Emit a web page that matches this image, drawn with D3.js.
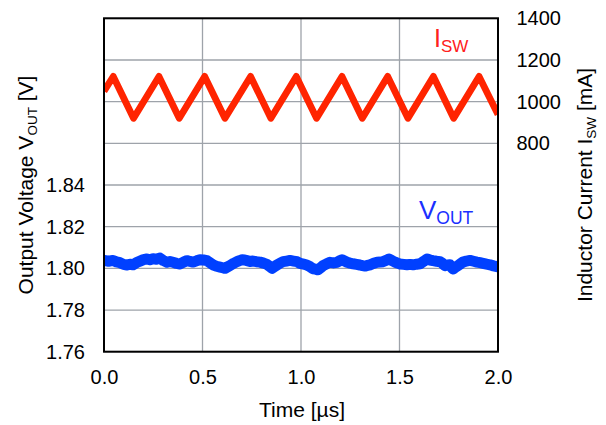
<!DOCTYPE html>
<html><head><meta charset="utf-8">
<script src="https://cdn.jsdelivr.net/npm/d3@7"></script>
<style>body{margin:0;background:#fff}svg{display:block}text{font-family:"Liberation Sans",Arial,sans-serif;fill:#000}</style>
</head><body>
<svg id="c" width="606" height="425"></svg>
<script>
// ---- data ----
const xTicks = [0, 0.5, 1.0, 1.5, 2.0];
const leftGrid = [1.76, 1.78, 1.80, 1.82, 1.84, 1.86, 1.88, 1.90, 1.92];
const leftTickLabels = [1.76, 1.78, 1.80, 1.82, 1.84];
const rightTickLabels = [800, 1000, 1200, 1400];

// Inductor current (mA) triangle wave vertices
const iswTime = [0, 0.047, 0.150, 0.279, 0.382, 0.511, 0.614, 0.744, 0.847, 0.976, 1.079, 1.208, 1.311, 1.440, 1.543, 1.672, 1.775, 1.904, 2.0];
const iswVal  = [1050, 1121, 920, 1121, 920, 1121, 920, 1121, 920, 1121, 920, 1121, 920, 1121, 920, 1121, 920, 1121, 938];

// Output voltage (V)
const voutTime = [0, 0.023, 0.046, 0.063, 0.081, 0.099, 0.117, 0.132, 0.147, 0.165, 0.183, 0.200, 0.218, 0.233, 0.249, 0.266, 0.284, 0.302, 0.320, 0.335, 0.350, 0.368, 0.386, 0.404, 0.421, 0.437, 0.452, 0.470, 0.487, 0.505, 0.523, 0.538, 0.553, 0.571, 0.589, 0.602, 0.614, 0.627, 0.640, 0.658, 0.675, 0.688, 0.701, 0.714, 0.726, 0.741, 0.756, 0.774, 0.792, 0.810, 0.827, 0.840, 0.853, 0.866, 0.878, 0.894, 0.909, 0.927, 0.944, 0.962, 0.980, 0.995, 1.013, 1.030, 1.046, 1.061, 1.074, 1.086, 1.099, 1.112, 1.130, 1.147, 1.165, 1.183, 1.196, 1.208, 1.221, 1.234, 1.249, 1.264, 1.282, 1.299, 1.312, 1.325, 1.338, 1.350, 1.368, 1.386, 1.401, 1.416, 1.432, 1.447, 1.462, 1.477, 1.490, 1.503, 1.521, 1.538, 1.553, 1.569, 1.587, 1.604, 1.622, 1.640, 1.655, 1.670, 1.688, 1.706, 1.718, 1.731, 1.744, 1.756, 1.764, 1.772, 1.785, 1.797, 1.810, 1.822, 1.840, 1.858, 1.876, 1.893, 1.909, 1.924, 1.942, 1.959, 1.977, 1.995, 2.0];
const voutVal  = [1.8038, 1.8034, 1.8038, 1.8031, 1.8027, 1.8019, 1.8016, 1.8020, 1.8017, 1.8028, 1.8035, 1.8042, 1.8045, 1.8041, 1.8046, 1.8044, 1.8049, 1.8037, 1.8029, 1.8033, 1.8029, 1.8024, 1.8021, 1.8030, 1.8037, 1.8033, 1.8030, 1.8036, 1.8041, 1.8040, 1.8037, 1.8027, 1.8017, 1.8010, 1.8006, 1.8003, 1.8000, 1.8007, 1.8014, 1.8024, 1.8032, 1.8037, 1.8041, 1.8040, 1.8037, 1.8033, 1.8035, 1.8032, 1.8030, 1.8025, 1.8019, 1.8010, 1.8000, 1.8009, 1.8016, 1.8025, 1.8032, 1.8035, 1.8038, 1.8035, 1.8032, 1.8024, 1.8020, 1.8016, 1.8008, 1.7998, 1.7996, 1.7993, 1.8002, 1.8013, 1.8022, 1.8029, 1.8026, 1.8029, 1.8036, 1.8041, 1.8035, 1.8029, 1.8025, 1.8022, 1.8019, 1.8016, 1.8013, 1.8011, 1.8014, 1.8017, 1.8024, 1.8029, 1.8030, 1.8032, 1.8038, 1.8045, 1.8037, 1.8030, 1.8025, 1.8021, 1.8019, 1.8017, 1.8019, 1.8017, 1.8020, 1.8022, 1.8033, 1.8045, 1.8040, 1.8037, 1.8034, 1.8032, 1.8024, 1.8013, 1.8016, 1.8017, 1.8006, 1.7997, 1.8006, 1.8013, 1.8022, 1.8030, 1.8035, 1.8038, 1.8034, 1.8030, 1.8027, 1.8024, 1.8020, 1.8017, 1.8012, 1.8008, 1.8007];

// ---- layout ----
const L = 104, R = 498, T = 18.3, B = 351.7;
const svg = d3.select("#c");
const x = d3.scaleLinear().domain([0, 2]).range([L, R]);
const yL = d3.scaleLinear().domain([1.76, 1.92]).range([B, T]);
const yR = d3.scaleLinear().domain([-200, 1400]).range([B, T]);

svg.append("defs").append("clipPath").attr("id", "clip")
  .append("rect").attr("x", L).attr("y", T).attr("width", R - L).attr("height", B - T);

// grid
const grid = svg.append("g").attr("stroke", "#9ea3aa").attr("stroke-width", 1.3);
grid.selectAll("line.h").data(leftGrid).join("line")
  .attr("x1", L).attr("x2", R).attr("y1", d => yL(d)).attr("y2", d => yL(d));
grid.selectAll("line.v").data(xTicks).join("line")
  .attr("y1", T).attr("y2", B).attr("x1", d => x(d)).attr("x2", d => x(d));

// traces
const plot = svg.append("g").attr("clip-path", "url(#clip)");
const isw = iswTime.map((t, i) => [t, iswVal[i]]);
const vout = voutTime.map((t, i) => [t, voutVal[i]]);
plot.append("path").datum(vout)
  .attr("d", d3.line().x(d => x(d[0])).y(d => yL(d[1])))
  .attr("fill", "none").attr("stroke", "#0040ff").attr("stroke-width", 11)
  .attr("stroke-linejoin", "round").attr("stroke-linecap", "round");
plot.append("path").datum(isw)
  .attr("d", d3.line().x(d => x(d[0])).y(d => yR(d[1])))
  .attr("fill", "none").attr("stroke", "#ff2400").attr("stroke-width", 6.8)
  .attr("stroke-linejoin", "round");

// border
svg.append("rect").attr("x", L).attr("y", T).attr("width", R - L).attr("height", B - T)
  .attr("fill", "none").attr("stroke", "#000").attr("stroke-width", 2);

// axes
const fs = "20px";
const ax = svg.append("g").attr("transform", `translate(0,${B})`)
  .call(d3.axisBottom(x).tickValues(xTicks).tickFormat(d3.format(".1f")).tickSize(0).tickPadding(18));
const al = svg.append("g").attr("transform", `translate(${L},0)`)
  .call(d3.axisLeft(yL).tickValues(leftTickLabels).tickFormat(d3.format(".2f")).tickSize(0).tickPadding(19));
const ar = svg.append("g").attr("transform", `translate(${R},0)`)
  .call(d3.axisRight(yR).tickValues(rightTickLabels).tickFormat(d3.format("d")).tickSize(0).tickPadding(18.5));
[ax, al, ar].forEach(g => {
  g.select(".domain").remove();
  g.selectAll("text").attr("font-size", fs).attr("font-family", '"Liberation Sans",Arial,sans-serif').attr("fill", "#000");
});

// axis titles
svg.append("text").attr("x", 302).attr("y", 417).attr("text-anchor", "middle")
  .attr("font-size", "21px").text("Time [µs]");

const lt = svg.append("text").attr("transform", `translate(33,${(T + B) / 2}) rotate(-90)`)
  .attr("text-anchor", "middle").attr("font-size", "21px");
lt.append("tspan").text("Output Voltage V");
lt.append("tspan").attr("font-size", "13.5px").attr("dy", 4).text("OUT");
lt.append("tspan").attr("dy", -4).text(" [V]");

const rt = svg.append("text").attr("transform", `translate(592,${(T + B) / 2}) rotate(-90)`)
  .attr("text-anchor", "middle").attr("font-size", "21px");
rt.append("tspan").text("Inductor Current I");
rt.append("tspan").attr("font-size", "13.5px").attr("dy", 4).text("SW");
rt.append("tspan").attr("dy", -4).text(" [mA]");

// series labels
const il = svg.append("text").attr("x", 434).attr("y", 46.7).attr("font-size", "25px").attr("fill", "#ff2020");
il.append("tspan").text("I").attr("fill", "#ff2020");
il.append("tspan").attr("font-size", "17px").attr("dy", 5.6).attr("fill", "#ff2020").text("SW");

const vl = svg.append("text").attr("x", 419).attr("y", 219.3).attr("font-size", "26px");
vl.append("tspan").attr("fill", "#1a30ff").text("V");
vl.append("tspan").attr("font-size", "17.5px").attr("dy", 4.7).attr("fill", "#1a30ff").text("OUT");
</script>
</body></html>
